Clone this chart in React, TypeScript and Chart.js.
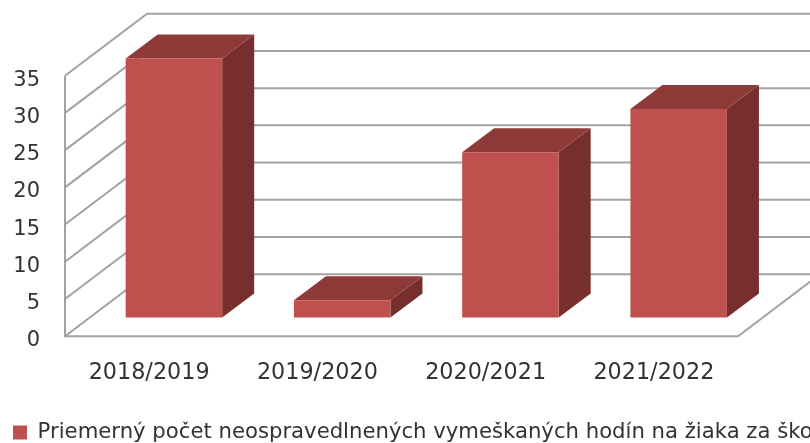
import React, { useEffect, useRef } from "react";
import { Chart, registerables } from "chart.js";

Chart.register(...registerables);

const categories = ["2018/2019", "2019/2020", "2020/2021", "2021/2022"];
const seriesName = "Priemerný počet neospravedlnených vymeškaných hodín na žiaka za školský rok";
const seriesValues = [34.8, 2.3, 22.2, 28];

const FRONT = "#C0504D";
const SIDE = "#772F2D";
const TOP = "#8E3A38";
const GRID = "#A2A2A2";
const WALL_DX = 82;
const WALL_DY = 62;
const BAR_SHIFT_X = 24.8;
const BAR_SHIFT_Y = 18.8;
const BAR_DX = 32;
const BAR_DY = 24;

const poly = (ctx: CanvasRenderingContext2D, pts: number[][], fill: string) => {
  ctx.beginPath();
  pts.forEach((p, i) => (i ? ctx.lineTo(p[0], p[1]) : ctx.moveTo(p[0], p[1])));
  ctx.closePath();
  ctx.fillStyle = fill;
  ctx.fill();
};

const walls3d = {
  id: "walls3d",
  beforeDatasetsDraw(chart: any) {
    const { ctx, chartArea, scales } = chart;
    const { left, right, bottom, top } = chartArea;
    ctx.save();
    ctx.strokeStyle = GRID;
    ctx.lineWidth = 2;
    ctx.lineJoin = "miter";
    scales.y.ticks.forEach((t: any) => {
      const y = scales.y.getPixelForValue(t.value);
      ctx.beginPath();
      ctx.moveTo(left, y);
      ctx.lineTo(left + WALL_DX, y - WALL_DY);
      ctx.lineTo(right + WALL_DX, y - WALL_DY);
      ctx.stroke();
    });
    ctx.beginPath();
    ctx.moveTo(left, top);
    ctx.lineTo(left, bottom);
    ctx.lineTo(right, bottom);
    ctx.lineTo(right + WALL_DX, bottom - WALL_DY);
    ctx.stroke();
    ctx.restore();
  },
  beforeDatasetDraw(chart: any, args: any) {
    const { ctx } = chart;
    ctx.save();
    ctx.translate(BAR_SHIFT_X, -BAR_SHIFT_Y);
    args.meta.data.forEach((el: any) => {
      const r = el.x + el.width / 2;
      const l = el.x - el.width / 2;
      poly(ctx, [[r, el.y], [r + BAR_DX, el.y - BAR_DY], [r + BAR_DX, el.base - BAR_DY], [r, el.base]], SIDE);
      poly(ctx, [[l, el.y], [l + BAR_DX, el.y - BAR_DY], [r + BAR_DX, el.y - BAR_DY], [r, el.y]], TOP);
    });
  },
  afterDatasetDraw(chart: any) {
    chart.ctx.restore();
  },
};

export default function App() {
  const ref = useRef<HTMLCanvasElement>(null);
  useEffect(() => {
    const chart = new Chart(ref.current!, {
      type: "bar",
      data: {
        labels: categories,
        datasets: [
          {
            label: seriesName,
            data: seriesValues,
            backgroundColor: FRONT,
            borderWidth: 0,
            barPercentage: 0.5736,
            categoryPercentage: 1,
            clip: false,
          } as any,
        ],
      },
      plugins: [walls3d],
      options: {
        responsive: false,
        animation: false,
        layout: { padding: { top: 75.7, right: 0, left: 13, bottom: -10 } },
        plugins: {
          tooltip: { enabled: false },
          legend: {
            position: "bottom",
            align: "start",
            labels: {
              boxWidth: 14,
              boxHeight: 14,
              padding: 0,
              color: "#333",
              font: { family: "DejaVu Sans", size: 21.2 },
            },
          },
        },
        scales: {
          x: {
            grid: { display: false },
            border: { display: false },
            afterFit: (s: any) => { s.height = 85.6; },
            ticks: {
              color: "#333",
              padding: 15.5,
              maxRotation: 0,
              autoSkip: false,
              font: { family: "DejaVu Sans", size: 22.3 },
            },
          },
          y: {
            min: 0,
            max: 35,
            grid: { display: false },
            border: { display: false },
            afterFit: (s: any) => { s.width = 52; },
            ticks: {
              stepSize: 5,
              color: "#333",
              padding: 17,
              labelOffset: 4.5,
              font: { family: "DejaVu Sans", size: 21 },
            },
          },
          spacer: {
            position: "right",
            min: 0,
            max: 35,
            grid: { display: false },
            border: { display: false },
            ticks: { display: false },
            afterFit: (s: any) => { s.width = 72; },
          },
        },
      },
    } as any);
    return () => chart.destroy();
  }, []);
  return (
    <div style={{ position: "absolute", left: 0, top: 0, width: 810, height: 443, overflow: "hidden", background: "#fff" }}>
      <canvas ref={ref} width={810} height={443} style={{ display: "block" }} />
    </div>
  );
}
